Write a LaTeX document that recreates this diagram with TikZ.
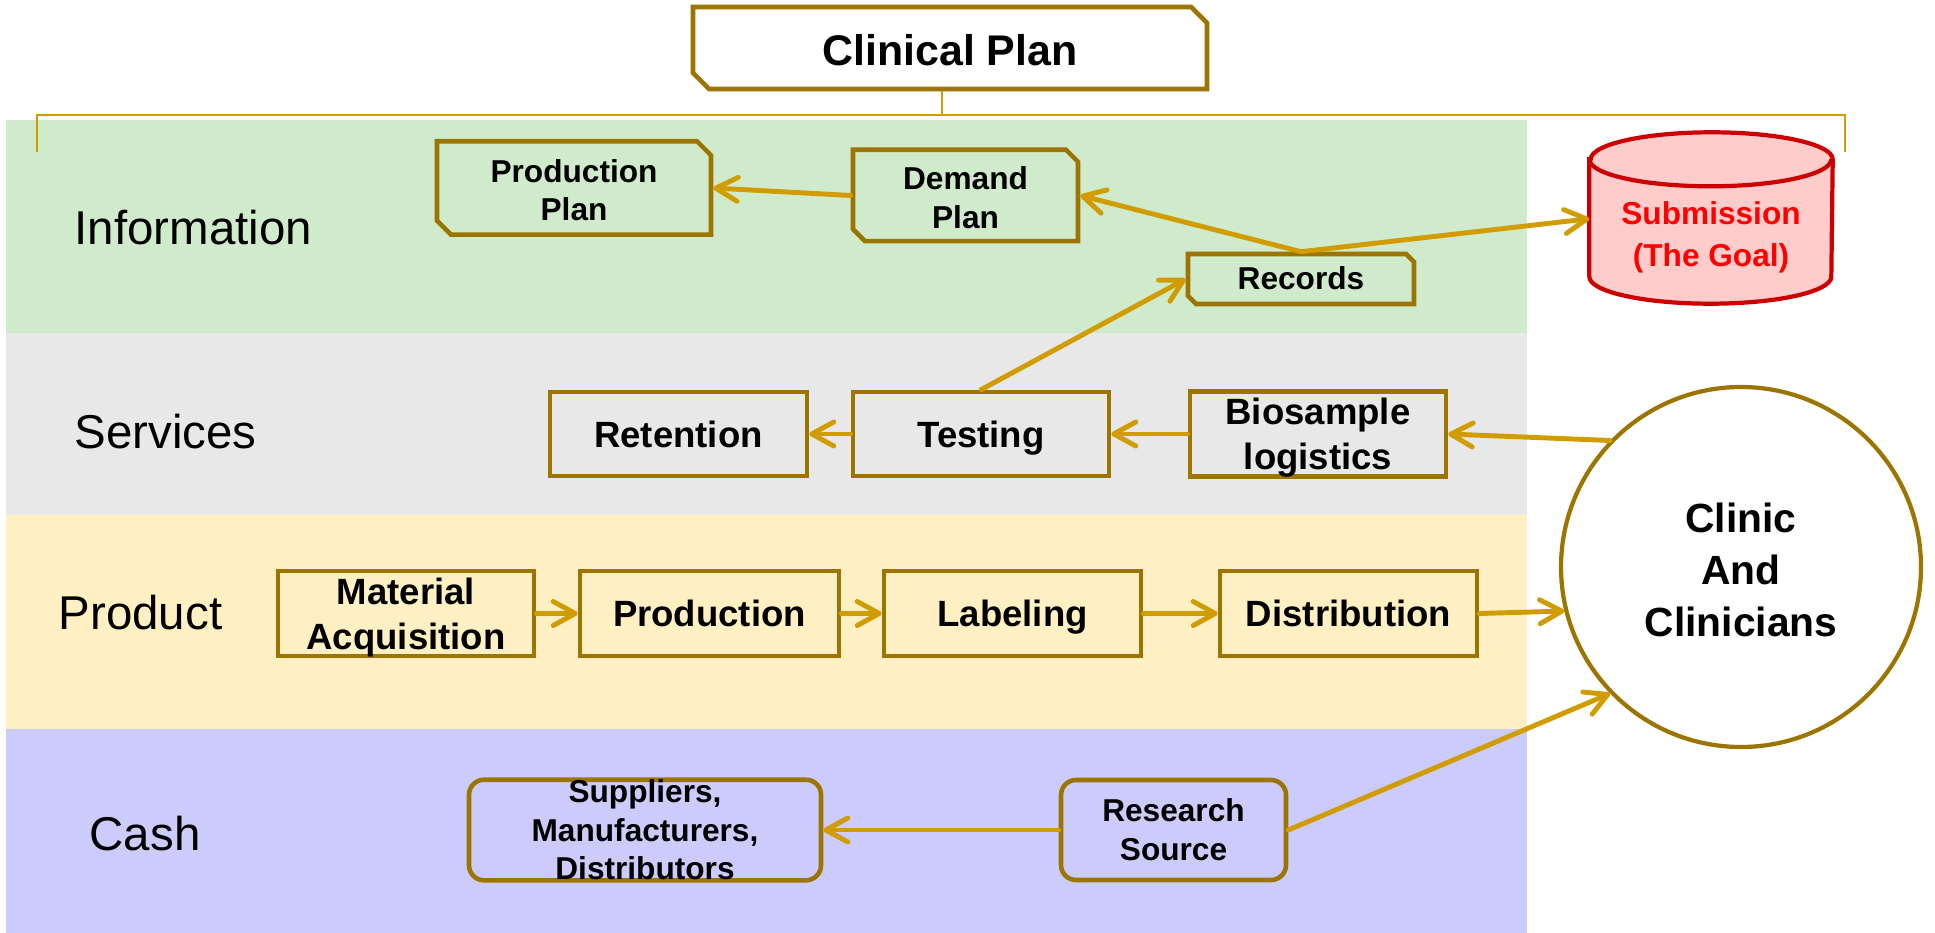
\documentclass[tikz,border=0pt]{standalone}
\usepackage{fontspec}
\setmainfont{Liberation Sans}
\usetikzlibrary{shapes.geometric,shapes.misc,arrows.meta}

\definecolor{laneinfo}{RGB}{208,235,204}
\definecolor{laneserv}{RGB}{232,232,232}
\definecolor{laneprod}{RGB}{255,240,196}
\definecolor{lanecash}{RGB}{204,204,252}
\definecolor{boxline}{RGB}{156,116,0}
\definecolor{arrowline}{RGB}{208,156,0}
\definecolor{goalfill}{RGB}{255,204,204}
\definecolor{goalline}{RGB}{204,0,0}

\pgfdeclarelayer{back}
\pgfsetlayers{back,main}

\begin{document}
\begin{tikzpicture}[
  lanelabel/.style={anchor=west, inner sep=0pt, font=\fontsize{13.5}{16}\selectfont},
  stepbox/.style={rectangle, draw=boxline, line width=1.3pt, minimum width=2.56cm, minimum height=0.84cm, inner sep=0pt, align=center, text height=9.4pt, text depth=2pt, font=\fontsize{10.4}{12.8}\selectfont\bfseries},
  steptwo/.style={text height=22.3pt, text depth=2pt},
  planbox/.style={chamfered rectangle, chamfered rectangle corners={north east,south west}, chamfered rectangle sep=0.07cm, draw=boxline, line width=1.3pt, inner sep=0pt, align=center, text height=20.6pt, text depth=2pt, font=\fontsize{9}{11}\selectfont\bfseries},
  cashbox/.style={rectangle, rounded corners=0.15cm, draw=boxline, line width=1.3pt, minimum height=1cm, inner sep=0pt, align=center, font=\fontsize{9}{11}\selectfont\bfseries},
  goal/.style={draw=goalline, fill=goalfill, line width=1.2pt},
  flow/.style={draw=arrowline, line width=1.4pt, line cap=round, -{Straight Barb[length=2.2mm,width=2.4mm,round]}},
]
  \useasboundingbox (0,0) rectangle (19.35,-9.33);
  % Lanes
  \fill[laneinfo] (0.06,-1.20) rectangle (15.27,-3.33);
  \fill[laneserv] (0.06,-3.33) rectangle (15.27,-5.15);
  \fill[laneprod] (0.06,-5.15) rectangle (15.27,-7.29);
  \fill[lanecash] (0.06,-7.29) rectangle (15.27,-9.33);
  \node (l-info) [lanelabel] at (0.74,-2.28) {Information};
  \node (l-serv) [lanelabel] at (0.74,-4.32) {Services};
  \node (l-prod) [lanelabel] at (0.58,-6.13) {Product};
  \node (l-cash) [lanelabel] at (0.89,-8.34) {Cash};
  % Header
  \node (plan) [planbox, chamfered rectangle sep=0.08cm, minimum width=5.14cm, minimum height=0.82cm, text height=12.4pt, text depth=2.6pt, font=\fontsize{12.2}{14}\selectfont\bfseries] at (9.50,-0.48) {Clinical Plan};
  \coordinate (brk-l) at (0.37,-1.52);
  \coordinate (brk-m) at (9.42,-1.15);
  \coordinate (brk-r) at (18.45,-1.52);
  \draw[arrowline, line width=0.6pt] (brk-l) |- (brk-m) -| (brk-r);
  \draw[arrowline, line width=0.6pt] (brk-m) -- (brk-m |- plan.south);
  % Nodes
  \node (pplan) [planbox, minimum width=2.74cm, minimum height=0.93cm] at (5.74,-1.88) {Production\\Plan};
  \node (dplan) [planbox, chamfered rectangle sep=0.06cm, minimum width=2.25cm, minimum height=0.75cm] at (9.655,-1.955) {Demand\\Plan};
  \node (rec) [planbox, chamfered rectangle sep=0.04cm, minimum width=2.26cm, minimum height=0.50cm, text height=8.1pt, text depth=1.9pt] at (13.01,-2.79) {Records};
  \node (sub) [minimum width=2.42cm, minimum height=1.43cm, inner sep=0pt, align=center, text height=22pt, text depth=2pt, text=red, font=\fontsize{9}{12}\selectfont\bfseries] at (17.11,-2.315) {Submission\\(The Goal)};
  \begin{pgfonlayer}{back}
    \filldraw[goal] (sub.north west) -- ([yshift=0.27cm]sub.south west)
      arc[start angle=180, end angle=360, x radius=1.21cm, y radius=0.27cm]
      -- (sub.north east) arc[start angle=0, end angle=180, x radius=1.21cm, y radius=0.27cm] -- cycle;
    \draw[goal, fill=none] (sub.north west) arc[start angle=180, end angle=360, x radius=1.21cm, y radius=0.27cm];
  \end{pgfonlayer}
  \node (ret) [stepbox, minimum width=2.57cm] at (6.785,-4.34) {Retention};
  \node (test) [stepbox] at (9.81,-4.34) {Testing};
  \node (bio) [stepbox, steptwo] at (13.18,-4.34) {Biosample\\logistics};
  \node (mat) [stepbox, steptwo, minimum height=0.85cm] at (4.06,-6.135) {Material\\Acquisition};
  \node (prod) [stepbox, minimum width=2.59cm, minimum height=0.85cm] at (7.095,-6.135) {Production};
  \node (lab) [stepbox, minimum width=2.57cm, minimum height=0.85cm] at (10.125,-6.135) {Labeling};
  \node (dist) [stepbox, minimum width=2.57cm, minimum height=0.85cm] at (13.485,-6.135) {Distribution};
  \node (sup) [cashbox, minimum width=3.52cm] at (6.45,-8.30) {Suppliers,\\Manufacturers,\\Distributors};
  \node (res) [cashbox, minimum width=2.25cm] at (11.735,-8.30) {Research\\Source};
  \node (clinic) [circle, draw=boxline, fill=white, line width=1.2pt, minimum size=3.6cm, inner sep=0pt, align=center, text height=41.4pt, text depth=2pt, font=\fontsize{11.6}{14.8}\selectfont\bfseries] at (17.41,-5.67) {Clinic\\And\\Clinicians};
  % Arrow
  \draw[flow] (dplan.west) -- (pplan.east);
  \draw[flow] (rec.north) -- (dplan.east);
  \draw[flow] (rec.north) -- (sub.174);
  \draw[flow] (test.north) -- (rec.west);
  \draw[flow] (test.west) -- (ret.east);
  \draw[flow] (bio.west) -- (test.east);
  \draw[flow] (clinic.136) -- (bio.east);
  \draw[flow] (mat.east) -- (prod.west);
  \draw[flow] (prod.east) -- (lab.west);
  \draw[flow] (lab.east) -- (dist.west);
  \draw[flow] (dist.east) -- (clinic.194);
  \draw[flow] (res.east) -- (clinic.224);
  \draw[flow] (res.west) -- (sup.east);
\end{tikzpicture}
\end{document}
